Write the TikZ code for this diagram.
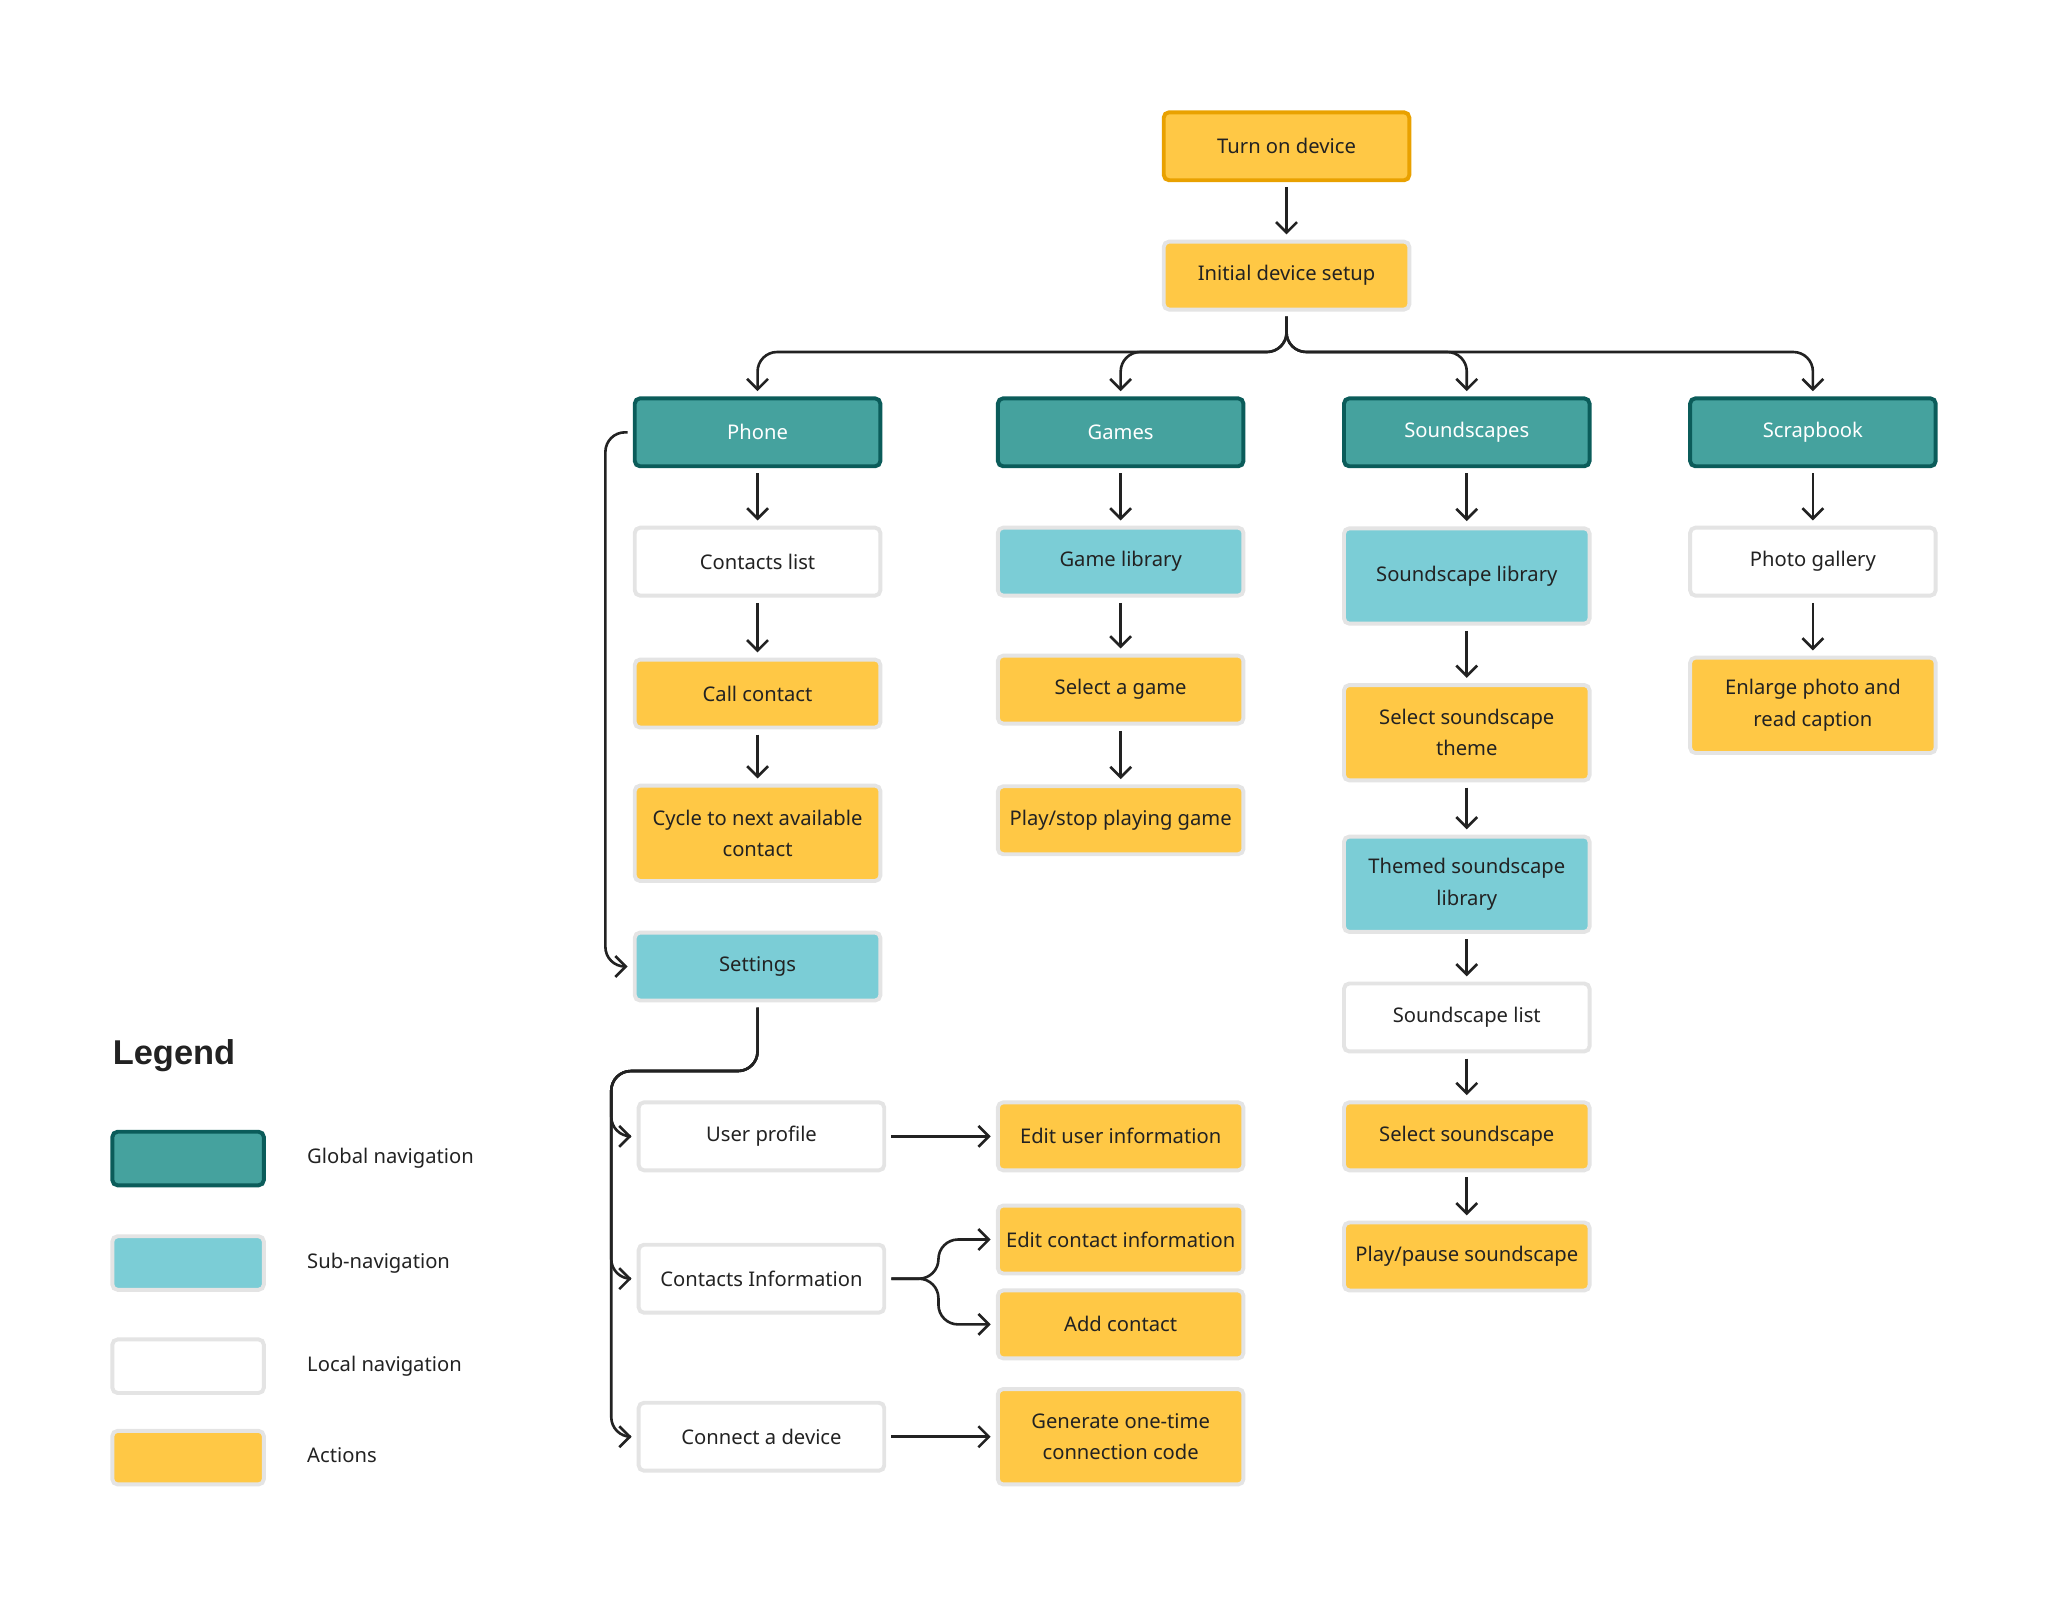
\documentclass[tikz,border=0pt]{standalone}
\usepackage{fontspec}
\setmainfont{Noto Sans}
\newfontfamily\legendfont{Liberation Sans}
\usetikzlibrary{arrows.meta,calc}
\definecolor{tealfill}{HTML}{45A29E}
\definecolor{tealline}{HTML}{0B5C5A}
\definecolor{cyanfill}{HTML}{7BCDD6}
\definecolor{actfill}{HTML}{FFC845}
\definecolor{actline}{HTML}{E9A100}
\definecolor{boxline}{HTML}{E4E4E4}
\definecolor{ink}{HTML}{222222}
\tikzset{
  box/.style={draw=boxline, line width=0.6mm, rounded corners=0.8mm,
    minimum width=37.6mm, minimum height=10.4mm, align=center,
    text=ink, font=\fontsize{8.8}{13.6}\selectfont, inner sep=0pt},
  tall/.style={minimum height=14.6mm},
  globalnav/.style={box, fill=tealfill, draw=tealline, text=white},
  subnav/.style={box, fill=cyanfill},
  localnav/.style={box, fill=white},
  action/.style={box, fill=actfill},
  legendbox/.style={box, minimum width=23.2mm, minimum height=8.2mm},
  legendtext/.style={anchor=west, text=ink, font=\fontsize{8.8}{10}\selectfont},
  flow/.style={draw=ink, line width=0.4mm, shorten >=0.8mm, shorten <=0.8mm,
    -{Straight Barb[length=1.6mm, width=3.2mm, line width=0.4mm]}},
}
\begin{document}
\begin{tikzpicture}[x=0.2mm, y=-0.2mm]
   \useasboundingbox (0,0) rectangle (1568,1222.7);
   % top
   \node[action, draw=actline] (turn) at (985,112) {Turn on device};
   \node[action] (ini) at (985,211) {Initial device setup};
   % global navigation
   \node[globalnav] (phone) at (580,331) {Phone};
   \node[globalnav] (games) at (858,331) {Games};
   \node[globalnav] (sound) at (1123,331) {Soundscapes};
   \node[globalnav] (scrap) at (1388,331) {Scrapbook};
   % phone
   \node[localnav] (clist) at (580,430) {Contacts list};
   \node[action] (call) at (580,531) {Call contact};
   \node[action, tall] (cycle) at (580,638) {Cycle to next available\\contact};
   \node[subnav] (set) at (580,740) {Settings};
   \node[localnav] (user) at (583,870) {User profile};
   \node[localnav] (cinfo) at (583,979) {Contacts Information};
   \node[localnav] (conn) at (583,1100) {Connect a device};
   \node[action] (edituser) at (858,870) {Edit user information};
   \node[action] (editc) at (858,949) {Edit contact information};
   \node[action] (addc) at (858,1014) {Add contact};
   \node[action, tall] (gen) at (858,1100) {Generate one-time\\connection code};
   % games
   \node[subnav] (glib) at (858,430) {Game library};
   \node[action] (gsel) at (858,528) {Select a game};
   \node[action] (gplay) at (858,628) {Play/stop playing game};
   % soundscapes
   \node[subnav, tall] (slib) at (1123,441) {Soundscape library};
   \node[action, tall] (stheme) at (1123,561) {Select soundscape\\theme};
   \node[subnav, tall] (sthemed) at (1123,677) {Themed soundscape\\library};
   \node[localnav] (slist) at (1123,779) {Soundscape list};
   \node[action] (ssel) at (1123,870) {Select soundscape};
   \node[action] (splay) at (1123,962) {Play/pause soundscape};
   % scrapbook
   \node[localnav] (photo) at (1388,430) {Photo gallery};
   \node[action, tall] (enlarge) at (1388,540) {Enlarge photo and\\read caption};

   \draw[flow] (turn) -- (ini);
   \foreach \g in {phone,games,sound,scrap}
      \draw[flow, rounded corners=3mm] (ini.south) |- ($(\g.north)+(0,-34)$) -- (\g.north);
   \draw[flow] (phone) -- (clist);
   \draw[flow] (clist) -- (call);
   \draw[flow] (call) -- (cycle);
   \draw[flow, rounded corners=3mm] (phone.west) -- ++(-21,0) |- (set.west);
   \coordinate (setbus) at (468,820);
   \foreach \s in {user,cinfo,conn}
      \draw[flow, rounded corners=3mm] (set.south) |- (setbus) |- (\s.west);
   \draw[flow] (user) -- (edituser);
   \draw[flow, rounded corners=3mm] (cinfo.east) -- ++(40,0) |- (editc.west);
   \draw[flow, rounded corners=3mm] (cinfo.east) -- ++(40,0) |- (addc.west);
   \draw[flow] (conn) -- (gen);
   \draw[flow] (games) -- (glib);
   \draw[flow] (glib) -- (gsel);
   \draw[flow] (gsel) -- (gplay);
   \draw[flow] (sound) -- (slib);
   \draw[flow] (slib) -- (stheme);
   \draw[flow] (stheme) -- (sthemed);
   \draw[flow] (sthemed) -- (slist);
   \draw[flow] (slist) -- (ssel);
   \draw[flow] (ssel) -- (splay);
   \draw[flow] (scrap) -- (photo);
   \draw[flow] (photo) -- (enlarge);

   % legend
   \node[anchor=west, text=ink, inner sep=0pt, font=\legendfont\fontsize{15}{17}\selectfont\bfseries] (legend) at (86,808) {Legend};
   \node[legendbox, fill=tealfill, draw=tealline] (lglobal) at (144,887) {};
   \node[legendbox, fill=cyanfill] (lsub) at (144,967) {};
   \node[legendbox, fill=white] (llocal) at (144,1046) {};
   \node[legendbox, fill=actfill] (lact) at (144,1116) {};
   \node[legendtext] (tglobal) at (229,887) {Global navigation};
   \node[legendtext] (tsub) at (229,967) {Sub-navigation};
   \node[legendtext] (tlocal) at (229,1046) {Local navigation};
   \node[legendtext] (tact) at (229,1114) {Actions};
\end{tikzpicture}
\end{document}
